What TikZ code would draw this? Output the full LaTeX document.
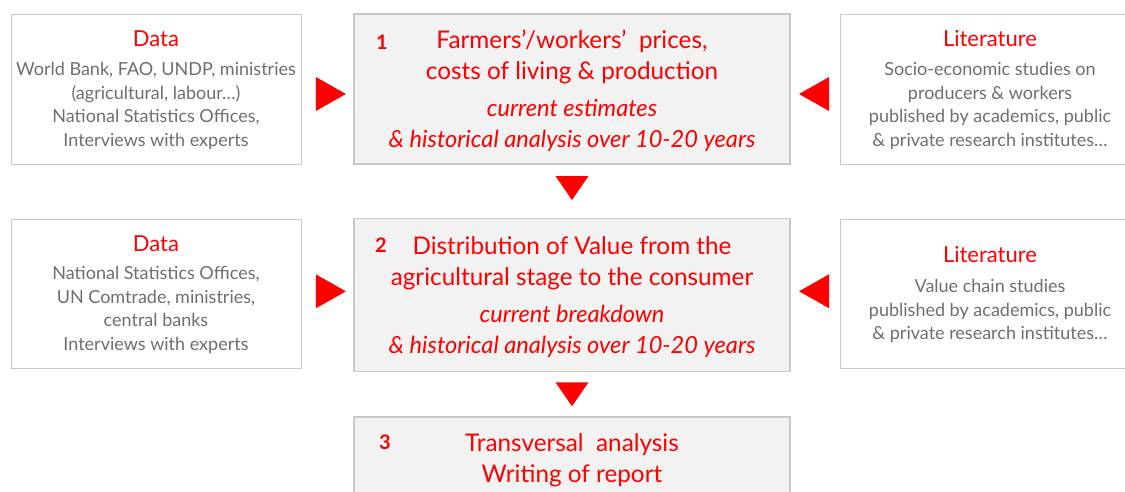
\documentclass[tikz,border=0pt]{standalone}
\usepackage{fontspec}
\setmainfont{Lato}
\usetikzlibrary{calc}
\makeatletter
\providecommand\tikzscope@linewidth{0.4pt}
\makeatother
\definecolor{arrred}{HTML}{FF0000}
\definecolor{txtgray}{HTML}{6E6E6E}
\definecolor{boxgray}{HTML}{C8C8C8}
\definecolor{mainfill}{HTML}{F2F2F2}
\tikzset{
  sidebox/.style={draw=boxgray, line width=1pt, inner sep=0pt, minimum width=290pt},
  mainbox/.style={draw=boxgray, fill=mainfill, line width=1.2pt, inner sep=0pt, minimum width=436pt},
  numlbl/.style={text=arrred, font=\fontsize{20}{24}\selectfont\bfseries, inner sep=0pt},
  ttl/.style={text=arrred, font=\fontsize{22}{26}\selectfont, inner sep=0pt},
  grytxt/.style={text=txtgray, font=\fontsize{18}{23.4}\selectfont, align=center, inner sep=0pt},
  mttl/.style={text=arrred, font=\fontsize{24.3}{30.8}\selectfont, align=center, inner sep=0pt},
  mital/.style={text=arrred, font=\fontsize{23.6}{31.5}\selectfont\itshape, align=center, inner sep=0pt},
  tri/.style={fill=arrred}
}
\begin{document}
\begin{tikzpicture}
\useasboundingbox (0pt,0pt) rectangle (1125pt,-491pt);
\begin{scope}
% boxes
\node[sidebox, minimum height=150pt] (d1) at (156pt,-89pt) {};
\node[mainbox, minimum height=150pt] (c1) at (572pt,-89pt) {};
\node[sidebox, minimum width=300pt, minimum height=150pt] (r1) at (990pt,-89pt) {};
\node[sidebox, minimum height=149pt] (d2) at (156pt,-293.5pt) {};
\node[mainbox, minimum height=153pt] (c2) at (572pt,-295pt) {};
\node[sidebox, minimum width=300pt, minimum height=149pt] (r2) at (990pt,-293.5pt) {};
\node[mainbox, minimum height=84pt] (c3) at (572pt,-459pt) {};
% row 1 texts
\node[ttl] (d1t) at ($(d1.center)+(0pt,50pt)$) {Data};
\node[grytxt] (d1b) at ($(d1.center)+(0pt,-17pt)$) {World Bank, FAO, UNDP, ministries\\(agricultural, labour…)\\National Statistics Offices,\\Interviews with experts};
\node[mttl] (c1t) at ($(c1.center)+(0pt,32pt)$) {Farmers’/workers’\ \ prices,\\costs of living \& production};
\node[mital] (c1b) at ($(c1.center)+(0pt,-36.5pt)$) {current estimates\\\& historical analysis over 10-20 years};
\node[numlbl] (n1) at (382pt,-42pt) {1};
\node[ttl] (r1t) at ($(r1.center)+(0pt,50pt)$) {Literature};
\node[grytxt] (r1b) at ($(r1.center)+(0pt,-17pt)$) {Socio-economic studies on\\producers \& workers\\published by academics, public\\\& private research institutes…};
% row 2 texts
\node[ttl] (d2t) at ($(d2.center)+(0pt,49.5pt)$) {Data};
\node[grytxt] (d2b) at ($(d2.center)+(0pt,-16.5pt)$) {National Statistics Offices,\\UN Comtrade, ministries,\\central banks\\Interviews with experts};
\node[mttl] (c2t) at ($(c2.center)+(0pt,31.5pt)$) {Distribution of Value from the\\agricultural stage to the consumer};
\node[mital] (c2b) at ($(c2.center)+(0pt,-36.5pt)$) {current breakdown\\\& historical analysis over 10-20 years};
\node[numlbl] (n2) at (381pt,-245pt) {2};
\node[ttl] (r2t) at ($(r2.center)+(0pt,38.5pt)$) {Literature};
\node[grytxt] (r2b) at ($(r2.center)+(0pt,-17.5pt)$) {Value chain studies\\published by academics, public\\\& private research institutes…};
% row 3 texts
\node[mttl] (c3t) at ($(c3.center)+(0pt,-1.5pt)$) {Transversal\ \ analysis\\Writing of report};
\node[numlbl] (n3) at (385pt,-442pt) {3};
% arrows
\path (d1.east) -- (c1.west) coordinate[pos=0.566] (a1);
\fill[tri] ($(a1)+(-15pt,12pt)$) -- ($(a1)+(15pt,-5pt)$) -- ($(a1)+(-15pt,-22pt)$) -- cycle;
\path (c1.east) -- (r1.west) coordinate[pos=0.48] (b1);
\fill[tri] ($(b1)+(15pt,12pt)$) -- ($(b1)+(-15pt,-5pt)$) -- ($(b1)+(15pt,-22pt)$) -- cycle;
\path (d2.east) -- (c2.west) coordinate[pos=0.566] (a2);
\fill[tri] ($(a2)+(-15pt,20pt)$) -- ($(a2)+(15pt,3pt)$) -- ($(a2)+(-15pt,-14pt)$) -- cycle;
\path (c2.east) -- (r2.west) coordinate[pos=0.48] (b2);
\fill[tri] ($(b2)+(15pt,20pt)$) -- ($(b2)+(-15pt,3pt)$) -- ($(b2)+(15pt,-14pt)$) -- cycle;
\path (c1.south) -- (c2.north) coordinate[pos=0.44] (v1);
\fill[tri] ($(v1)+(-16.5pt,12pt)$) -- ($(v1)+(16.5pt,12pt)$) -- ($(v1)+(0pt,-12pt)$) -- cycle;
\path (c2.south) -- (c3.north) coordinate[pos=0.5] (v2);
\fill[tri] ($(v2)+(-16.5pt,12pt)$) -- ($(v2)+(16.5pt,12pt)$) -- ($(v2)+(0pt,-12pt)$) -- cycle;
\end{scope}
\end{tikzpicture}
\end{document}
